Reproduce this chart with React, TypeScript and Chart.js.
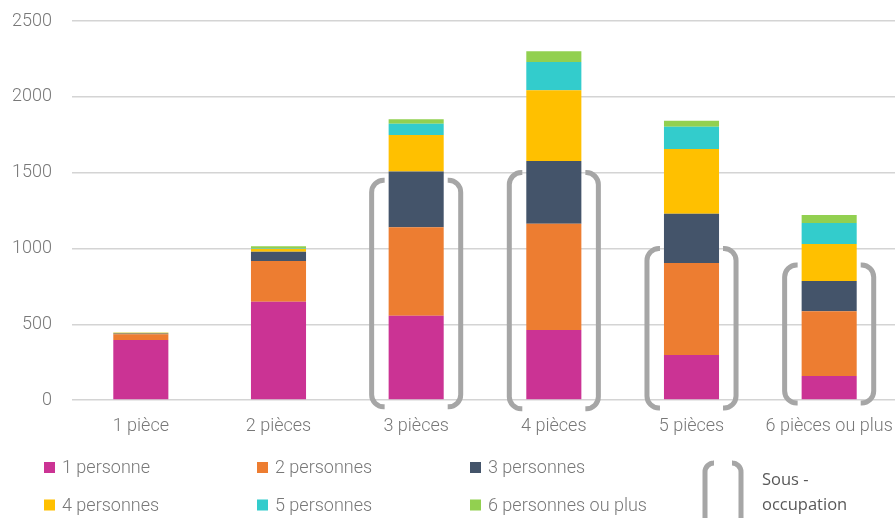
import React, { useEffect, useRef } from "react";
import { Chart, registerables } from "chart.js";

Chart.register(...registerables);

const categories = ["1 pièce", "2 pièces", "3 pièces", "4 pièces", "5 pièces", "6 pièces ou plus"];
const seriesLabels = ["1 personne", "2 personnes", "3 personnes", "4 personnes", "5 personnes", "6 personnes ou plus"];
const seriesColors = ["#CB3394", "#ED7D31", "#44546A", "#FFC000", "#33CCCC", "#92D050"];
const p1 = [395, 648, 556, 462, 297, 158];
const p2 = [38, 269, 583, 701, 607, 427];
const p3 = [6, 61, 369, 414, 325, 200];
const p4 = [4, 20, 240, 466, 427, 244];
const p5 = [1, 5, 75, 187, 147, 139];
const p6 = [2, 12, 29, 70, 39, 52];
const seriesValues = [p1, p2, p3, p4, p5, p6];
// "Sous-occupation" brackets (value range), null = none
const bracketTop = [null, null, 1450, 1500, 1000, 890];
const bracketBottom = [null, null, -45, -58, -53, -20];
const bracketLegendLabel = ["Sous -", "occupation"];
const yMax = 2500;
const yStep = 500;

const TEXT = "#787878";
const BRACKET = "#A6A6A6";
const FONT = "Roboto";

function drawBracket(ctx: CanvasRenderingContext2D, xv: number, xArm: number, yT: number, yB: number, r: number) {
  const dir = xArm > xv ? 1 : -1;
  ctx.beginPath();
  ctx.moveTo(xArm, yT);
  ctx.lineTo(xv + dir * r, yT);
  ctx.arcTo(xv, yT, xv, yT + r, r);
  ctx.lineTo(xv, yB - r);
  ctx.arcTo(xv, yB, xv + dir * r, yB, r);
  ctx.lineTo(xArm, yB);
  ctx.stroke();
}

const bracketPlugin = {
  id: "brackets",
  afterDatasetsDraw(chart: any) {
    const ctx = chart.ctx as CanvasRenderingContext2D;
    const ys = chart.scales.y;
    const meta = chart.getDatasetMeta(0);
    ctx.save();
    ctx.strokeStyle = BRACKET;
    ctx.lineWidth = 5;
    ctx.lineCap = "butt";
    bracketTop.forEach((top, i) => {
      if (top === null) return;
      const bar = meta.data[i];
      const half = bar.width / 2;
      const left = bar.x - half;
      const right = bar.x + half;
      const yT = ys.getPixelForValue(top);
      const yB = ys.getPixelForValue(bracketBottom[i] as number);
      drawBracket(ctx, left - 17, left - 4, yT, yB, 12);
      drawBracket(ctx, right + 17, right + 4, yT, yB, 12);
    });
    ctx.restore();
  },
};

const legendPlugin = {
  id: "customLegend",
  afterDraw(chart: any) {
    const ctx = chart.ctx as CanvasRenderingContext2D;
    ctx.save();
    const colX = [44, 257, 470];
    const rowY = [467.5, 505];
    ctx.font = `300 18px ${FONT}`;
    ctx.textBaseline = "middle";
    ctx.textAlign = "left";
    chart.data.datasets.forEach((ds: any, i: number) => {
      const x = colX[i % 3];
      const y = rowY[Math.floor(i / 3)];
      ctx.fillStyle = ds.backgroundColor;
      ctx.fillRect(x, y - 5.5, 11, 11);
      ctx.fillStyle = TEXT;
      ctx.fillText(ds.label, x + 18, y + 1);
    });
    // bracket legend
    ctx.strokeStyle = BRACKET;
    ctx.lineWidth = 5;
    drawBracket(ctx, 705, 713, 463, 530, 9);
    drawBracket(ctx, 741, 733, 463, 530, 9);
    ctx.font = `16.5px "Open Sans"`;
    ctx.fillStyle = "#595959";
    ctx.textBaseline = "alphabetic";
    ctx.fillText(bracketLegendLabel[0], 762, 485);
    ctx.fillText(bracketLegendLabel[1], 762, 510);
    ctx.restore();
  },
};

export default function App() {
  const ref = useRef<HTMLCanvasElement>(null);
  useEffect(() => {
    document.body.style.margin = "0";
    const chart = new Chart(ref.current!, {
      type: "bar",
      data: {
        labels: categories,
        datasets: seriesValues.map((vals, i) => ({
          label: seriesLabels[i],
          data: vals,
          backgroundColor: seriesColors[i],
          borderWidth: 0,
          barPercentage: 0.4,
          categoryPercentage: 1,
        })),
      },
      options: {
        responsive: false,
        animation: false,
        devicePixelRatio: 1,
        layout: { padding: { top: 21, left: 0, right: 0, bottom: 78 } },
        plugins: { legend: { display: false }, tooltip: { enabled: false } },
        scales: {
          x: {
            stacked: true,
            grid: { display: false, drawTicks: false },
            border: { display: false },
            ticks: { color: TEXT, font: { family: FONT, size: 18, weight: "300" }, padding: 16, maxRotation: 0 },
            afterFit: (s: any) => { s.height = 40; s.paddingLeft = 0; s.paddingRight = 0; },
          },
          y: {
            stacked: true,
            min: 0,
            max: yMax,
            grid: { color: "#D4D4D4", lineWidth: 1.4, drawTicks: false },
            border: { display: false },
            ticks: {
              stepSize: yStep,
              color: TEXT,
              font: { family: FONT, size: 18, weight: "300" },
              padding: 20,
              callback: (v: any) => String(v),
            },
            afterFit: (s: any) => { s.width = 72; s.paddingTop = 0; s.paddingBottom = 0; },
          },
        },
      },
      plugins: [bracketPlugin, legendPlugin],
    });
    return () => chart.destroy();
  }, []);
  return (
    <div style={{ position: "absolute", left: 0, top: 0, width: 895, height: 518, overflow: "hidden", background: "#fff" }}>
      <canvas ref={ref} width={898} height={518} style={{ display: "block" }} />
    </div>
  );
}
